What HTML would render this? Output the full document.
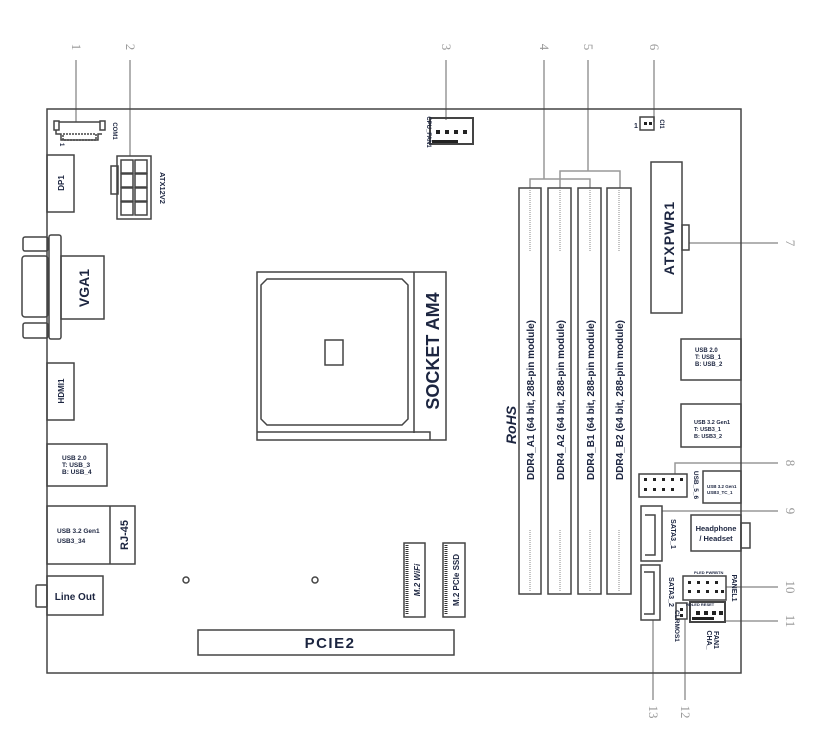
<!DOCTYPE html>
<html><head><meta charset="utf-8"><style>
html,body{margin:0;padding:0;background:#fff;}
svg{display:block;}
text{font-family:"Liberation Sans",sans-serif;fill:#1c2540;font-weight:bold;}
.n{font-family:"Liberation Serif",serif;font-weight:normal;fill:#999;font-size:13px;}
.c{stroke:#999;stroke-width:1.5;fill:none;}
.b{stroke:#444;stroke-width:1.5;fill:none;}
</style></head><body>
<svg width="813" height="732" viewBox="0 0 813 732" xmlns="http://www.w3.org/2000/svg">
<g class="c">
<line x1="76" y1="60" x2="76" y2="122"/>
<line x1="130" y1="60" x2="130" y2="156"/>
<line x1="446" y1="60" x2="446" y2="120"/>
<line x1="544" y1="60" x2="544" y2="179"/>
<polyline points="530,188 530,179 590,179 590,188"/>
<line x1="588" y1="60" x2="588" y2="171"/>
<polyline points="560,188 560,171 620,171 620,188"/>
<line x1="654" y1="60" x2="654" y2="122"/>
<line x1="689" y1="243" x2="778" y2="243"/>
<polyline points="675,474 675,463 778,463"/>
<line x1="662" y1="511" x2="778" y2="511"/>
<line x1="726" y1="587" x2="778" y2="587"/>
<line x1="725" y1="621" x2="778" y2="621"/>
<line x1="685" y1="619" x2="685" y2="700"/>
<line x1="653" y1="620" x2="653" y2="700"/>
</g>
<g class="n">
<text class="n" transform="translate(72,47) rotate(90)" text-anchor="middle">1</text>
<text class="n" transform="translate(126,47) rotate(90)" text-anchor="middle">2</text>
<text class="n" transform="translate(442,47) rotate(90)" text-anchor="middle">3</text>
<text class="n" transform="translate(540,47) rotate(90)" text-anchor="middle">4</text>
<text class="n" transform="translate(584,47) rotate(90)" text-anchor="middle">5</text>
<text class="n" transform="translate(650,47) rotate(90)" text-anchor="middle">6</text>
<text class="n" transform="translate(786,243) rotate(90)" text-anchor="middle">7</text>
<text class="n" transform="translate(786,463) rotate(90)" text-anchor="middle">8</text>
<text class="n" transform="translate(786,511) rotate(90)" text-anchor="middle">9</text>
<text class="n" transform="translate(786,587) rotate(90)" text-anchor="middle">10</text>
<text class="n" transform="translate(786,621) rotate(90)" text-anchor="middle">11</text>
<text class="n" transform="translate(681,712) rotate(90)" text-anchor="middle">12</text>
<text class="n" transform="translate(649,712) rotate(90)" text-anchor="middle">13</text>
</g>
<rect x="47" y="109" width="694" height="564" class="b" fill="#fff"/>
<g class="b">
<rect x="54" y="121" width="5" height="9"/><rect x="100" y="121" width="5" height="9"/>
<path d="M59,122 H100 M56,130 V134 H61 V140 H98 V134 H102"/>
<rect x="63" y="134" width="33" height="6" stroke-dasharray="2,1"/>
<rect x="47" y="155" width="27" height="57"/>
<rect x="117" y="156" width="34" height="63"/>
<rect x="111" y="166" width="7" height="28"/>
<rect x="121" y="160" width="12" height="13"/><rect x="135" y="160" width="12" height="13"/>
<rect x="121" y="174" width="12" height="13"/><rect x="135" y="174" width="12" height="13"/>
<rect x="121" y="188" width="12" height="13"/><rect x="135" y="188" width="12" height="13"/>
<rect x="121" y="202" width="12" height="13"/><rect x="135" y="202" width="12" height="13"/>
<rect x="61" y="256" width="43" height="63"/>
<rect x="49" y="235" width="12" height="104" rx="2"/>
<rect x="23" y="237" width="25" height="14" rx="2"/>
<rect x="22" y="256" width="26" height="61" rx="3"/>
<rect x="23" y="323" width="25" height="15" rx="2"/>
<rect x="257" y="272" width="189" height="168"/>
<path d="M267,279 H402 L408,285 V419 L402,425 H267 L261,419 V285 Z"/>
<line x1="414" y1="272" x2="414" y2="433"/>
<polyline points="257,432 430,432 430,440"/>
<rect x="325" y="340" width="18" height="25"/>
<rect x="47" y="363" width="27" height="57"/>
<rect x="47" y="444" width="60" height="42"/>
<rect x="47" y="506" width="88" height="58"/><line x1="110" y1="506" x2="110" y2="564"/>
<rect x="47" y="576" width="56" height="39"/><rect x="36" y="585" width="11" height="22" rx="1"/>
<circle cx="186" cy="580" r="3"/><circle cx="315" cy="580" r="3"/>
<rect x="198" y="630" width="256" height="25"/>
<rect x="404" y="543" width="21" height="74"/>
<rect x="443" y="543" width="22" height="74"/>
<rect x="519" y="188" width="22" height="406"/>
<rect x="548" y="188" width="23" height="406"/>
<rect x="578" y="188" width="23" height="406"/>
<rect x="607" y="188" width="24" height="406"/>
<rect x="651" y="162" width="31" height="151"/>
<rect x="682" y="225" width="7" height="25"/>
<rect x="681" y="339" width="60" height="41"/>
<rect x="681" y="404" width="60" height="43"/>
<rect x="639" y="474" width="48" height="23"/>
<rect x="703" y="471" width="38" height="32"/>
<rect x="641" y="506" width="21" height="55"/>
<path d="M645,515 H655 V555 H645"/>
<rect x="691" y="515" width="50" height="36"/><rect x="741" y="523" width="9" height="25"/>
<rect x="641" y="565" width="19" height="55"/>
<path d="M644,572 H654 V614 H644"/>
<rect x="683" y="576" width="43" height="24"/>
<rect x="690" y="602" width="35" height="20" stroke-width="2"/>
<rect x="676" y="603" width="11" height="16"/>
<rect x="640" y="117" width="14" height="13"/>
<rect x="430" y="118" width="43" height="26" stroke-width="2"/>
</g>
<g stroke="#333" stroke-width="3" stroke-dasharray="1,1">
<line x1="407" y1="545" x2="407" y2="615"/><line x1="446" y1="545" x2="446" y2="615"/>
</g>
<g stroke="#888" stroke-width="1" stroke-dasharray="1,1">
<line x1="530" y1="190" x2="530" y2="252"/><line x1="560" y1="190" x2="560" y2="252"/>
<line x1="590" y1="190" x2="590" y2="252"/><line x1="619" y1="190" x2="619" y2="252"/>
<line x1="530" y1="530" x2="530" y2="592"/><line x1="560" y1="530" x2="560" y2="592"/>
<line x1="590" y1="530" x2="590" y2="592"/><line x1="619" y1="530" x2="619" y2="592"/>
</g>
<g fill="#222">
<rect x="436" y="130" width="4" height="4"/><rect x="445" y="130" width="4" height="4"/><rect x="454" y="130" width="4" height="4"/><rect x="463" y="130" width="4" height="4"/>
<rect x="432" y="140" width="26" height="3"/>
<rect x="644" y="122" width="3" height="3"/><rect x="649" y="122" width="3" height="3"/>
<rect x="696" y="611" width="4" height="4"/><rect x="704" y="611" width="4" height="4"/><rect x="712" y="611" width="4" height="4"/><rect x="719" y="611" width="4" height="4"/>
<rect x="692" y="617" width="22" height="3"/>
<rect x="680" y="608" width="3" height="3"/><rect x="680" y="614" width="3" height="3"/>
<rect x="644" y="478" width="3" height="3"/><rect x="653" y="478" width="3" height="3"/><rect x="662" y="478" width="3" height="3"/><rect x="671" y="478" width="3" height="3"/><rect x="680" y="478" width="3" height="3"/>
<rect x="644" y="488" width="3" height="3"/><rect x="653" y="488" width="3" height="3"/><rect x="662" y="488" width="3" height="3"/><rect x="671" y="488" width="3" height="3"/>
<rect x="688" y="581" width="3" height="3"/><rect x="697" y="581" width="3" height="3"/><rect x="706" y="581" width="3" height="3"/><rect x="715" y="581" width="3" height="3"/>
<rect x="688" y="590" width="3" height="3"/><rect x="697" y="590" width="3" height="3"/><rect x="706" y="590" width="3" height="3"/><rect x="715" y="590" width="3" height="3"/><rect x="721" y="590" width="3" height="3"/>
</g>
<text transform="translate(113,131) rotate(90)" font-size="6" text-anchor="middle">COM1</text>
<text transform="translate(60,143) rotate(90)" font-size="6">1</text>
<text transform="translate(64,183) rotate(-90)" font-size="8" text-anchor="middle">DP1</text>
<text transform="translate(160,188) rotate(90)" font-size="7.5" text-anchor="middle">ATX12V2</text>
<text transform="translate(89,288) rotate(-90)" font-size="14" text-anchor="middle">VGA1</text>
<text transform="translate(64,391) rotate(-90)" font-size="8" text-anchor="middle">HDMI1</text>
<text x="62" y="460" font-size="6.5">USB 2.0</text>
<text x="62" y="467" font-size="6.5">T: USB_3</text>
<text x="62" y="474" font-size="6.5">B: USB_4</text>
<text x="57" y="533" font-size="6.5">USB 3.2 Gen1</text>
<text x="57" y="543" font-size="6.5">USB3_34</text>
<text transform="translate(128,535) rotate(-90)" font-size="11" text-anchor="middle">RJ-45</text>
<text x="75" y="600" font-size="10" text-anchor="middle">Line Out</text>
<text x="330" y="648" font-size="15" text-anchor="middle" letter-spacing="1.5">PCIE2</text>
<text transform="translate(420,580) rotate(-90)" font-size="8" font-style="italic" text-anchor="middle">M.2 WiFi</text>
<text transform="translate(459,580) rotate(-90)" font-size="8" text-anchor="middle">M.2 PCIe SSD</text>
<text transform="translate(439,351) rotate(-90)" font-size="18" text-anchor="middle">SOCKET AM4</text>
<text transform="translate(516,425) rotate(-90)" font-size="14" font-style="italic" text-anchor="middle">RoHS</text>
<text transform="translate(534,400) rotate(-90)" font-size="10" text-anchor="middle">DDR4_A1 (64 bit, 288-pin module)</text>
<text transform="translate(564,400) rotate(-90)" font-size="10" text-anchor="middle">DDR4_A2 (64 bit, 288-pin module)</text>
<text transform="translate(594,400) rotate(-90)" font-size="10" text-anchor="middle">DDR4_B1 (64 bit, 288-pin module)</text>
<text transform="translate(623,400) rotate(-90)" font-size="10" text-anchor="middle">DDR4_B2 (64 bit, 288-pin module)</text>
<text transform="translate(427,132) rotate(90)" font-size="6" text-anchor="middle">CPU_FAN1</text>
<text transform="translate(660,124) rotate(90)" font-size="6" text-anchor="middle">CI1</text>
<text x="634" y="128" font-size="7">1</text>
<text transform="translate(674,238) rotate(-90)" font-size="14" text-anchor="middle" letter-spacing="1">ATXPWR1</text>
<text x="695" y="352" font-size="6">USB 2.0</text>
<text x="695" y="359" font-size="6">T: USB_1</text>
<text x="695" y="366" font-size="6">B: USB_2</text>
<text x="694" y="424" font-size="5.5">USB 3.2 Gen1</text>
<text x="694" y="431" font-size="5.5">T: USB3_1</text>
<text x="694" y="438" font-size="5.5">B: USB3_2</text>
<text x="707" y="488" font-size="4.5">USB 3.2 Gen1</text>
<text x="707" y="494" font-size="4.5">USB3_TC_1</text>
<text transform="translate(694,485) rotate(90)" font-size="6.5" text-anchor="middle">USB_5_6</text>
<text transform="translate(671,534) rotate(90)" font-size="7" text-anchor="middle">SATA3_1</text>
<text x="716" y="531" font-size="7.5" font-weight="normal" text-anchor="middle">Headphone</text>
<text x="716" y="541" font-size="7.5" font-weight="normal" text-anchor="middle">/ Headset</text>
<text transform="translate(669,592) rotate(90)" font-size="7" text-anchor="middle">SATA3_2</text>
<text x="694" y="574" font-size="4">PLED PWRBTN</text>
<text x="686" y="606" font-size="4">HDLED RESET</text>
<text transform="translate(732,588) rotate(90)" font-size="7" text-anchor="middle">PANEL1</text>
<text transform="translate(675,626) rotate(90)" font-size="6.5" text-anchor="middle">CLRMOS1</text>
<text transform="translate(707,640) rotate(90)" font-size="7" text-anchor="middle">CHA_</text>
<text transform="translate(714,640) rotate(90)" font-size="7" text-anchor="middle">FAN1</text>
</svg>
</body></html>
